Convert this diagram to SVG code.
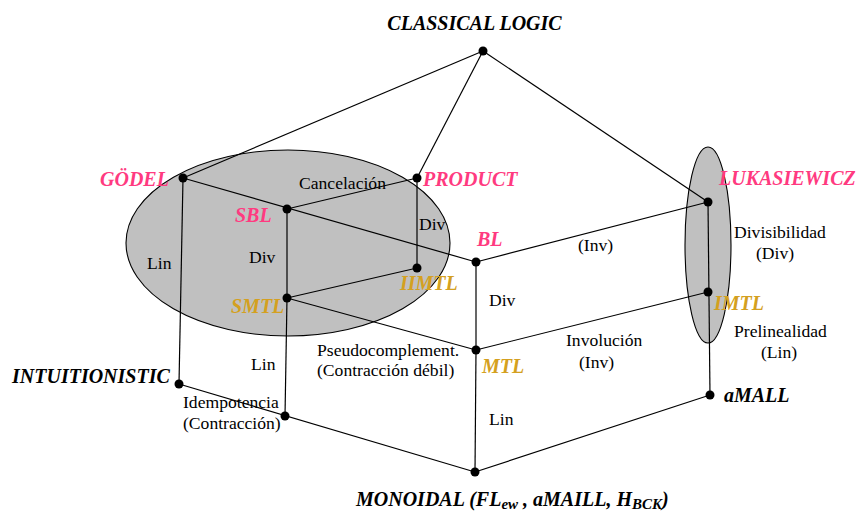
<svg xmlns="http://www.w3.org/2000/svg" width="857" height="511" viewBox="0 0 857 511">
<style>
.blob{fill:#c0c0c0;stroke:#000;stroke-width:1.1}
.edge{stroke:#000;stroke-width:1.2;fill:none}
.dot{fill:#000}
.lbl{font-size:17.6px;fill:#000}
.nm{font-size:20px;font-weight:bold;font-style:italic}
.pink{fill:#ff3a80}
.gold{fill:#d4a020}
.blk{fill:#000}
</style>
<rect x="0" y="0" width="857" height="511" fill="#ffffff"/>
<g id="regions">
<ellipse class="blob" cx="288" cy="243" rx="162" ry="93"/>
<ellipse class="blob" cx="708" cy="245" rx="23" ry="98"/>
</g>
<g id="connectors">
<line class="edge" x1="483" y1="51" x2="183" y2="178"/>
<line class="edge" x1="483" y1="51" x2="417" y2="178"/>
<line class="edge" x1="483" y1="51" x2="708" y2="202"/>
<line class="edge" x1="183" y1="178" x2="476" y2="262"/>
<line class="edge" x1="287" y1="209" x2="417" y2="178"/>
<line class="edge" x1="417" y1="178" x2="417" y2="268"/>
<line class="edge" x1="287" y1="209" x2="287" y2="298"/>
<line class="edge" x1="183" y1="178" x2="179" y2="384"/>
<line class="edge" x1="287" y1="298" x2="417" y2="268"/>
<line class="edge" x1="287" y1="298" x2="476" y2="350"/>
<line class="edge" x1="476" y1="262" x2="708" y2="202"/>
<line class="edge" x1="476" y1="262" x2="476" y2="350"/>
<line class="edge" x1="476" y1="350" x2="708" y2="292"/>
<line class="edge" x1="708" y1="202" x2="710" y2="395"/>
<line class="edge" x1="287" y1="298" x2="285" y2="416"/>
<line class="edge" x1="179" y1="384" x2="475" y2="472"/>
<line class="edge" x1="476" y1="350" x2="475" y2="472"/>
<line class="edge" x1="710" y1="395" x2="475" y2="472"/>
</g>
<g id="edge-labels">
<text class="lbl" font-family="'Liberation Serif', serif" x="299" y="189">Cancelación</text>
<text class="lbl" font-family="'Liberation Serif', serif" x="419" y="230">Div</text>
<text class="lbl" font-family="'Liberation Serif', serif" x="147" y="269">Lin</text>
<text class="lbl" font-family="'Liberation Serif', serif" x="249" y="263">Div</text>
<text class="lbl" font-family="'Liberation Serif', serif" x="578" y="251">(Inv)</text>
<text class="lbl" font-family="'Liberation Serif', serif" x="734" y="238">Divisibilidad</text>
<text class="lbl" font-family="'Liberation Serif', serif" x="756" y="259">(Div)</text>
<text class="lbl" font-family="'Liberation Serif', serif" x="489" y="306">Div</text>
<text class="lbl" font-family="'Liberation Serif', serif" x="566" y="346">Involución</text>
<text class="lbl" font-family="'Liberation Serif', serif" x="579" y="368">(Inv)</text>
<text class="lbl" font-family="'Liberation Serif', serif" x="734" y="337">Prelinealidad</text>
<text class="lbl" font-family="'Liberation Serif', serif" x="761" y="358">(Lin)</text>
<text class="lbl" font-family="'Liberation Serif', serif" x="317" y="356">Pseudocomplement.</text>
<text class="lbl" font-family="'Liberation Serif', serif" x="317" y="376">(Contracción débil)</text>
<text class="lbl" font-family="'Liberation Serif', serif" x="251" y="370">Lin</text>
<text class="lbl" font-family="'Liberation Serif', serif" x="183" y="408">Idempotencia</text>
<text class="lbl" font-family="'Liberation Serif', serif" x="183" y="429">(Contracción)</text>
<text class="lbl" font-family="'Liberation Serif', serif" x="489" y="425">Lin</text>
</g>
<g id="nodes">
<g id="classical"><circle class="dot" cx="483" cy="51" r="4.5"/><text class="nm blk" font-family="'Liberation Serif', serif" x="474.5" y="30" text-anchor="middle">CLASSICAL LOGIC</text></g>
<g id="godel"><circle class="dot" cx="183" cy="178" r="4.5"/><text class="nm pink" font-family="'Liberation Serif', serif" x="100" y="186">GÖDEL</text></g>
<g id="product"><circle class="dot" cx="417" cy="178" r="4.5"/><text class="nm pink" font-family="'Liberation Serif', serif" x="423" y="186">PRODUCT</text></g>
<g id="sbl"><circle class="dot" cx="287" cy="209" r="4.5"/><text class="nm pink" font-family="'Liberation Serif', serif" x="235" y="222">SBL</text></g>
<g id="bl"><circle class="dot" cx="476" cy="262" r="4.5"/><text class="nm pink" font-family="'Liberation Serif', serif" x="477" y="246">BL</text></g>
<g id="iimtl"><circle class="dot" cx="417" cy="268" r="4.5"/><text class="nm gold" font-family="'Liberation Serif', serif" x="400" y="290">IIMTL</text></g>
<g id="smtl"><circle class="dot" cx="287" cy="298" r="4.5"/><text class="nm gold" font-family="'Liberation Serif', serif" x="231" y="313">SMTL</text></g>
<g id="mtl"><circle class="dot" cx="476" cy="350" r="4.5"/><text class="nm gold" font-family="'Liberation Serif', serif" x="482" y="373">MTL</text></g>
<g id="lukasiewicz"><circle class="dot" cx="708" cy="202" r="4.5"/><text class="nm pink" font-family="'Liberation Serif', serif" x="719" y="185">LUKASIEWICZ</text></g>
<g id="imtl"><circle class="dot" cx="708" cy="292" r="4.5"/><text class="nm gold" font-family="'Liberation Serif', serif" x="714" y="310">IMTL</text></g>
<g id="amall"><circle class="dot" cx="710" cy="395" r="4.5"/><text class="nm blk" font-family="'Liberation Serif', serif" x="724" y="402">aMALL</text></g>
<g id="intuitionistic"><circle class="dot" cx="179" cy="384" r="4.5"/><text class="nm blk" font-family="'Liberation Serif', serif" x="12" y="383">INTUITIONISTIC</text></g>
<g id="idempotencia"><circle class="dot" cx="285" cy="416" r="4.5"/></g>
<g id="monoidal"><circle class="dot" cx="475" cy="472" r="4.5"/><text class="nm blk" font-family="'Liberation Serif', serif" x="356" y="506">MONOIDAL (FL<tspan font-size="15" dy="3">ew</tspan><tspan dy="-3"> , aMAILL, H</tspan><tspan font-size="15" dy="3">BCK</tspan><tspan dy="-3">)</tspan></text></g>
</g>
</svg>
